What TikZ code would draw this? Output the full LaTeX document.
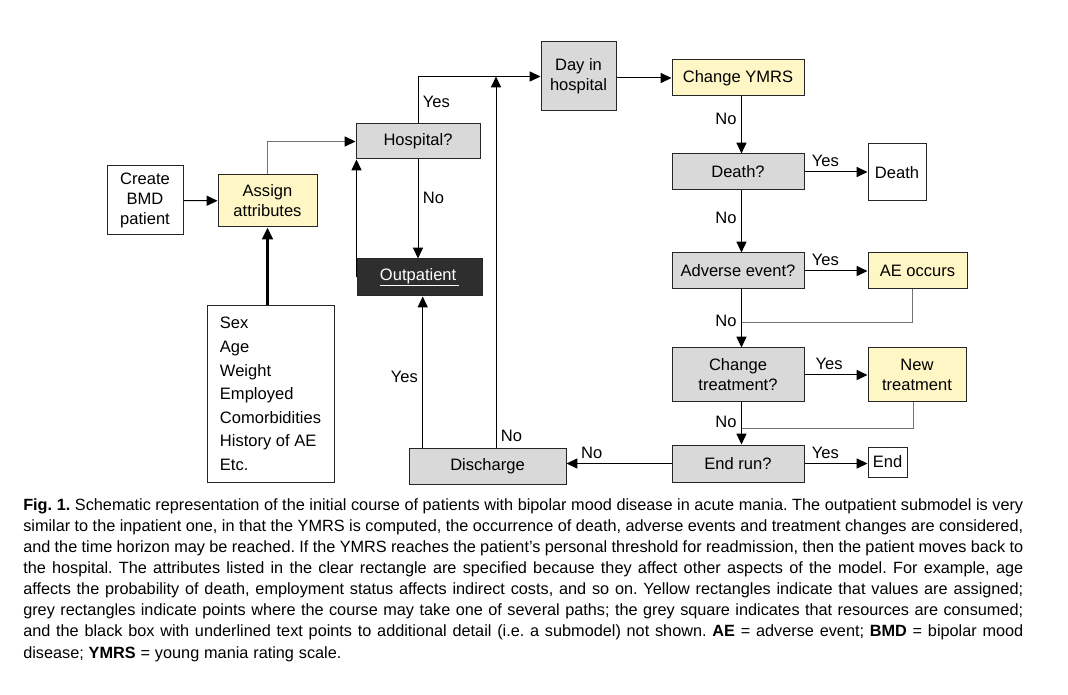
\documentclass[tikz,border=0pt]{standalone}
\usepackage{fontspec}
\setmainfont{Liberation Sans}
\usetikzlibrary{arrows.meta,positioning}

\definecolor{ylw}{HTML}{FFF6C6}
\definecolor{gry}{HTML}{D9D9D9}
\definecolor{blk}{HTML}{2E2E2E}

\begin{document}
\begin{tikzpicture}[x=0.75pt,y=-0.75pt,>={Triangle[length=8.2pt,width=7.6pt]},
  every node/.style={font=\fontsize{12.4}{15}\selectfont},
  plain/.style={draw=black!85,line width=0.75pt,align=center,inner sep=0pt,fill=white},
  assign/.style={plain,fill=ylw},
  choice/.style={plain,fill=gry},
  sub/.style={plain,fill=blk,text=white},
  flow/.style={->,line width=0.75pt},
  back/.style={line width=0.75pt,draw=black!55}]
  \useasboundingbox (0,0) rectangle (1068,695);

  \node[plain,minimum width=57pt,minimum height=51.75pt]     (c)  at (145,200.5) {Create\\BMD\\patient};
  \node[assign,minimum width=74.25pt,minimum height=39pt]    (a)  at (267.5,201) {Assign\\attributes};
  \node[choice,minimum width=93pt,minimum height=26.25pt]    (h)  at (418,141.5) {Hospital?};
  \node[sub,minimum width=93.75pt,minimum height=27.75pt]    (o)  at (419.5,277.5) {\underline{Outpatient\,}};
  \node[choice,minimum width=56.25pt,minimum height=51.75pt] (d)  at (578.5,76.5) {Day in\\hospital};
  \node[assign,minimum width=99pt,minimum height=27pt]       (y)  at (738,78) {Change YMRS};
  \node[choice,minimum width=99pt,minimum height=27pt]       (dq) at (738,172) {Death?};
  \node[plain,minimum width=43.5pt,minimum height=42.75pt]   (de) at (897,172.5) {Death};
  \node[choice,minimum width=99pt,minimum height=27pt]       (ae) at (738,271) {Adverse event?};
  \node[assign,minimum width=74.25pt,minimum height=27pt]    (ao) at (917.5,271) {AE occurs};
  \node[choice,minimum width=99pt,minimum height=40.5pt]     (ct) at (738,375) {Change\\treatment?};
  \node[assign,minimum width=73.5pt,minimum height=40.5pt]   (nt) at (917,375) {New\\treatment};
  \node[choice,minimum width=99pt,minimum height=27.75pt]    (er) at (738,463.5) {End run?};
  \node[plain,minimum width=29.25pt,minimum height=22.5pt]   (e)  at (887.5,462) {End};
  \node[choice,minimum width=117.75pt,minimum height=27pt]   (ds) at (487.5,466) {Discharge};
  \node[plain,minimum width=95.25pt,minimum height=132pt,font=\fontsize{12.4}{17.7}\selectfont,align=left]
       (at) at (270.5,394) {Sex\\Age\\Weight\\Employed\\Comorbidities\\History of AE\\Etc.};

  \coordinate (t)  at (496,76.5);
  \coordinate (m1) at (742,322.7);
  \coordinate (m2) at (742,428.3);

  % entry and hospital loop
  \path[flow] (c) edge (a);
  \draw[back,-{Triangle[length=8.2pt,width=7.6pt,black]}] (a.north) |- (h.west);
  \draw[flow] (h.north) |- node[pos=0.23,right] {Yes} (d.west);
  \draw[flow] (h.south) -- node[pos=0.39,right] {No} (h.south |- o.north);
  \draw[flow] (o.west) -- (o.west |- h.south);
  \draw[flow] ([xshift=2.4pt]ds.north -| o.south) -- node[pos=0.47,left] {Yes} ([xshift=2.4pt]o.south);
  \draw[flow] (ds.north -| t) -- node[pos=0.03,right] {No} (t);
  \draw[->,line width=2.2pt,>={Triangle[length=9pt,width=8pt]}] (at.north -| a.south) -- (a.south);

  % inpatient day
  \draw[flow] (d.east |- y.west) -- (y.west);
  \draw[flow] ([xshift=2.6pt]y.south) -- node[pos=0.4,left] {No} ([xshift=2.6pt]dq.north);
  \draw[flow] (dq) -- node[pos=0.33,above] {Yes} (dq -| de.west);
  \draw[flow] ([xshift=2.6pt]dq.south) -- node[pos=0.44,left] {No} ([xshift=2.6pt]ae.north);
  \draw[flow] (ae) -- node[pos=0.33,above] {Yes} (ao);
  \draw[back] ([xshift=-3.9pt]ao.south) |- (m1);
  \draw[flow] ([xshift=2.6pt]ae.south) -- node[pos=0.54,left] {No} ([xshift=2.6pt]ct.north);
  \draw[flow] (ct) -- node[pos=0.39,above] {Yes} (ct -| nt.west);
  \draw[back] ([xshift=-2.8pt]nt.south) |- (m2);
  \draw[flow] ([xshift=2.6pt]ct.south) -- node[pos=0.46,left] {No} ([xshift=2.6pt]er.north);
  \draw[flow] (er.east) -- node[pos=0.33,above] {Yes} (er.east -| e.west);
  \draw[flow] (er.west) -- node[pos=0.76,above] {No} (er.west -| ds.east);

  % caption
  \node[anchor=north west,inner sep=0pt,text width=750pt,align=justify,
        font=\fontsize{12.2}{15.86}\selectfont] (cap) at (23,498) {\frenchspacing
    \spaceskip=0.2em plus 0.2em minus 0.08em
    \textbf{Fig. 1.} Schematic representation of the initial course of patients with bipolar mood disease in acute mania. The outpatient submodel is very\linebreak
    similar to the inpatient one, in that the YMRS is computed, the occurrence of death, adverse events and treatment changes are considered,\linebreak
    and the time horizon may be reached. If the YMRS reaches the patient’s personal threshold for readmission, then the patient moves back to\linebreak
    the hospital. The attributes listed in the clear rectangle are specified because they affect other aspects of the model. For example, age\linebreak
    affects the probability of death, employment status affects indirect costs, and so on. Yellow rectangles indicate that values are assigned;\linebreak
    grey rectangles indicate points where the course may take one of several paths; the grey square indicates that resources are consumed;\linebreak
    and the black box with underlined text points to additional detail (i.e. a submodel) not shown. \textbf{AE} = adverse event; \textbf{BMD} = bipolar mood\linebreak
    {\spaceskip=0.3em disease; \textbf{YMRS} = young mania rating scale.}};
\end{tikzpicture}
\end{document}
